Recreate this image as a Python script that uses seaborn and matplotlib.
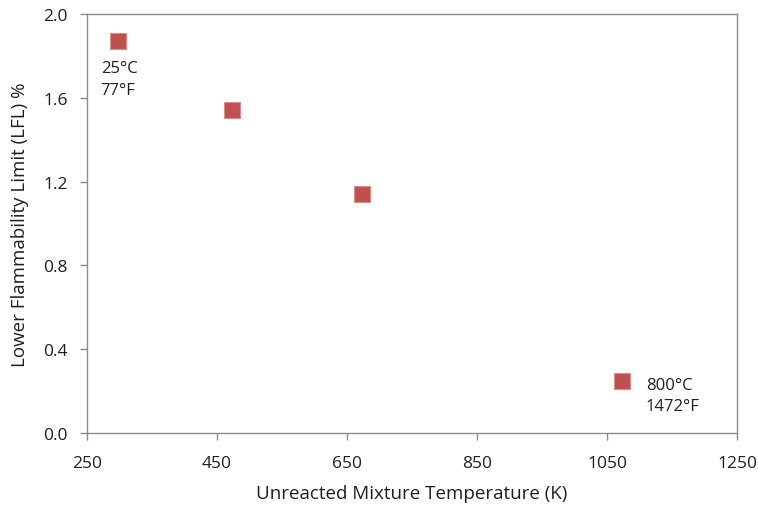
import matplotlib
matplotlib.use("Agg")
import matplotlib.pyplot as plt
import seaborn as sns
import pandas as pd

temps_k = [298, 473, 673, 1073]
lfl_pct = [1.87, 1.54, 1.14, 0.25]
x_ticks = [250, 450, 650, 850, 1050, 1250]
y_ticks = [0.0, 0.4, 0.8, 1.2, 1.6, 2.0]

df = pd.DataFrame({"T": temps_k, "LFL": lfl_pct})

sns.set_style("white", {"xtick.bottom": True, "ytick.left": True})
plt.rcParams['font.family'] = ['Open Sans', 'DejaVu Sans']

fig = plt.figure(figsize=(7.58, 5.06), dpi=100)
ax = fig.add_axes([0.1148, 0.1423, 0.8575, 0.8281])

sns.scatterplot(data=df, x="T", y="LFL", ax=ax, marker="s", s=120,
                color="#C0504D", edgecolor="#D98C8A", linewidth=0.8, zorder=3)

ax.set_xlim(250, 1250)
ax.set_ylim(0, 2.0)
ax.set_xticks(x_ticks)
ax.set_yticks(y_ticks)
ax.set_xticklabels([str(t) for t in x_ticks])
ax.set_yticklabels([f"{v:.1f}" for v in y_ticks])

txt_col = "#1f1f1f"
for s in ax.spines.values():
    s.set_color("#8C8C8C")
    s.set_linewidth(1.0)
ax.tick_params(axis="both", which="major", direction="out", length=5, width=1,
               color="#8C8C8C", labelsize=12.5, labelcolor=txt_col,
               bottom=True, left=True, top=False, right=False)
ax.tick_params(axis="x", pad=11)
ax.tick_params(axis="y", pad=9)

ax.set_xlabel("Unreacted Mixture Temperature (K)", fontsize=13.5, color=txt_col, labelpad=9)
ax.set_ylabel("Lower Flammability Limit (LFL) %", fontsize=13.5, color=txt_col, labelpad=10)

ax.text(271, 1.69, "25°C\n77°F", fontsize=12, color=txt_col, ha="left", va="center",
        linespacing=1.45)
ax.text(1110, 0.18, "800°C\n1472°F", fontsize=12, color=txt_col, ha="left", va="center",
        linespacing=1.45)

fig.savefig("out.png", dpi=100)
